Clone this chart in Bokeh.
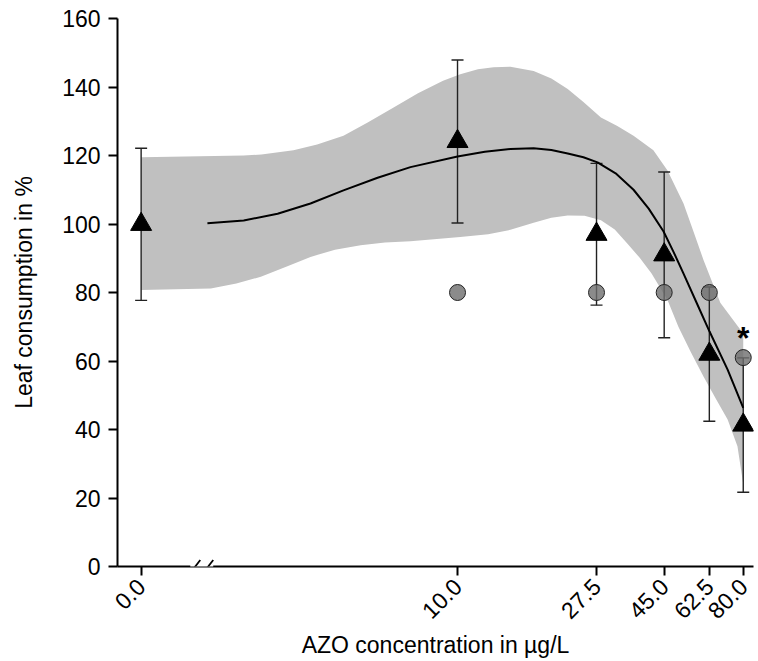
import math
from bokeh.plotting import figure
from bokeh.models import Range1d, FixedTicker, Arrow
from bokeh.core.properties import value
from bokeh.embed import file_html
from bokeh.resources import INLINE

FONT = "Liberation Sans"

# ---------------- data ----------------
conc_labels = ["0.0", "10.0", "27.5", "45.0", "62.5", "80.0"]
conc = [0.0, 10.0, 27.5, 45.0, 62.5, 80.0]
ZERO_AT = 1.0  # where the control (0 µg/L) sits on the broken log axis

mean_pct = [99.9, 124.1, 97.0, 91.0, 62.0, 41.3]
sd_pct = [22.2, 23.8, 20.7, 24.2, 19.6, 19.6]

circ_conc = [10.0, 27.5, 45.0, 62.5, 80.0]
circ_pct = [80.0, 80.0, 80.0, 80.0, 61.0]

sig_conc = [80.0]
sig_pct = [61.0]

fit_conc = [1.62, 2.11, 2.70, 3.43, 4.36, 5.59, 7.10, 10.0, 12.2, 14.7, 17.4, 19.8,
            22.3, 25.0, 27.7, 31.6, 36.0, 40.2, 44.8, 48.2, 51.8, 57.3, 62.6, 71.4, 80.0]
fit_pct = [100.2, 101.0, 103.0, 106.0, 109.8, 113.5, 116.6, 119.7, 121.1, 121.9, 122.1, 121.6,
           120.6, 119.5, 118.0, 114.8, 110.0, 104.5, 97.8, 91.8, 85.5, 76.5, 68.6, 57.5, 46.3]

band_up_conc = [1.0, 2.11, 2.4, 3.03, 3.6, 4.36, 5.2, 6.28, 7.5, 9.0, 10.2, 11.6, 13.0, 14.7, 17.4, 19.8,
                22.3, 25.0, 28.4, 32.0, 36.0, 41.6, 46.1, 51.8, 55.8, 59.9, 67.7, 80.0]
band_up_pct = [119.5, 120.0, 120.3, 121.5, 123.2, 125.8, 129.6, 134.0, 138.2, 141.8, 143.7, 145.2, 145.8, 145.9, 144.7, 142.5,
               139.4, 135.6, 131.1, 128.6, 125.8, 121.5, 115.6, 106.0, 97.6, 89.5, 77.0, 68.0]
band_lo_conc = [1.0, 1.66, 2.0, 2.39, 2.9, 3.43, 4.1, 4.94, 5.9, 7.10, 10.2, 12.5, 14.7, 17.4, 19.8, 22.3,
                25.2, 28.4, 31.4, 34.4, 37.6, 41.0, 46.1, 49.9, 54.6, 59.9, 65.6, 71.4, 76.7, 80.0]
band_lo_pct = [80.7, 81.2, 82.6, 84.6, 87.7, 90.4, 92.5, 93.8, 94.6, 95.0, 96.2, 97.0, 98.3, 100.4, 101.8, 102.5,
               102.4, 101.1, 98.4, 94.3, 90.2, 85.6, 77.8, 70.0, 62.6, 55.5, 48.9, 42.9, 35.1, 24.0]

# axis break (axis units where the "//" gap sits)
BREAK_LO, BREAK_HI = 1.43, 1.69

x_title = "AZO concentration in µg/L"
y_title = "Leaf consumption in %"

# ---------------- derived ----------------
x_pos = [ZERO_AT if c == 0 else c for c in conc]
err_lo = [m - s for m, s in zip(mean_pct, sd_pct)]
err_hi = [m + s for m, s in zip(mean_pct, sd_pct)]

p = figure(width=758, height=661, x_axis_type="log",
           x_range=Range1d(0.842, 86.2), y_range=Range1d(0, 160),
           output_backend="svg", toolbar_location=None,
           min_border_left=117, min_border_right=5,
           min_border_top=18, min_border_bottom=93)
p.outline_line_color = None
p.grid.visible = False
p.background_fill_color = "white"
p.border_fill_color = "white"

# confidence band
p.patch(band_up_conc + band_lo_conc[::-1], band_up_pct + band_lo_pct[::-1],
        fill_color="#C0C0C0", line_color=None)

# error bars
p.segment(x0=x_pos, y0=err_lo, x1=x_pos, y1=err_hi, line_color="#222222", line_width=1.4)
p.scatter(x_pos + x_pos, err_lo + err_hi, marker="dash", size=12,
          line_color="#222222", line_width=1.4)

# fitted curve
p.line(fit_conc, fit_pct, line_color="black", line_width=2)

# means
p.scatter(x_pos, mean_pct, marker="triangle", size=21,
          fill_color="black", line_color="black")

# second series (circles)
p.scatter(circ_conc, circ_pct, marker="circle", size=16,
          fill_color="#6e6e6e", fill_alpha=0.8, line_color="#222222", line_width=1)

# significance mark
p.text(sig_conc, sig_pct, text=["*"], text_font=value(FONT), text_font_size="32px",
       text_font_style="bold", text_align="center", text_baseline="bottom",
       y_offset=-2, text_color="black")

# axes
for ax in (p.xaxis[0], p.yaxis[0]):
    ax.axis_line_width = 2
    ax.axis_line_color = "black"
    ax.major_tick_line_width = 2
    ax.major_tick_line_color = "black"
    ax.major_tick_in = 0
    ax.major_tick_out = 9
    ax.minor_tick_line_color = None
    ax.major_label_text_font = FONT
    ax.major_label_text_font_size = "23px"
    ax.major_label_text_color = "black"
    ax.axis_label_text_font = FONT
    ax.axis_label_text_font_size = "23px"
    ax.axis_label_text_font_style = "normal"
    ax.axis_label_text_color = "black"

p.yaxis.ticker = FixedTicker(ticks=[0, 20, 40, 60, 80, 100, 120, 140, 160])
p.yaxis.axis_label = y_title
p.yaxis.major_label_standoff = 8
p.yaxis.axis_label_standoff = 22

p.xaxis.ticker = FixedTicker(ticks=x_pos)
p.xaxis.major_label_overrides = {x: lab for x, lab in zip(x_pos, conc_labels)}
p.xaxis.major_label_orientation = math.pi / 4
p.xaxis.major_label_standoff = 7
p.xaxis.axis_label = x_title
p.xaxis.axis_label_standoff = 3

# axis break: white gap in the axis line plus two slashes
p.add_layout(Arrow(end=None, x_start=BREAK_LO, y_start=0, x_end=BREAK_HI, y_end=0,
                   line_color="white", line_width=6))
f = 10 ** (5 / 316.4)
for cx in (BREAK_LO * f, BREAK_HI / f):
    p.add_layout(Arrow(end=None, x_start=cx / f, y_start=-1.9, x_end=cx * f, y_end=1.9,
                       line_color="black", line_width=1.8))

open("out.html", "w").write(file_html(p, INLINE))
